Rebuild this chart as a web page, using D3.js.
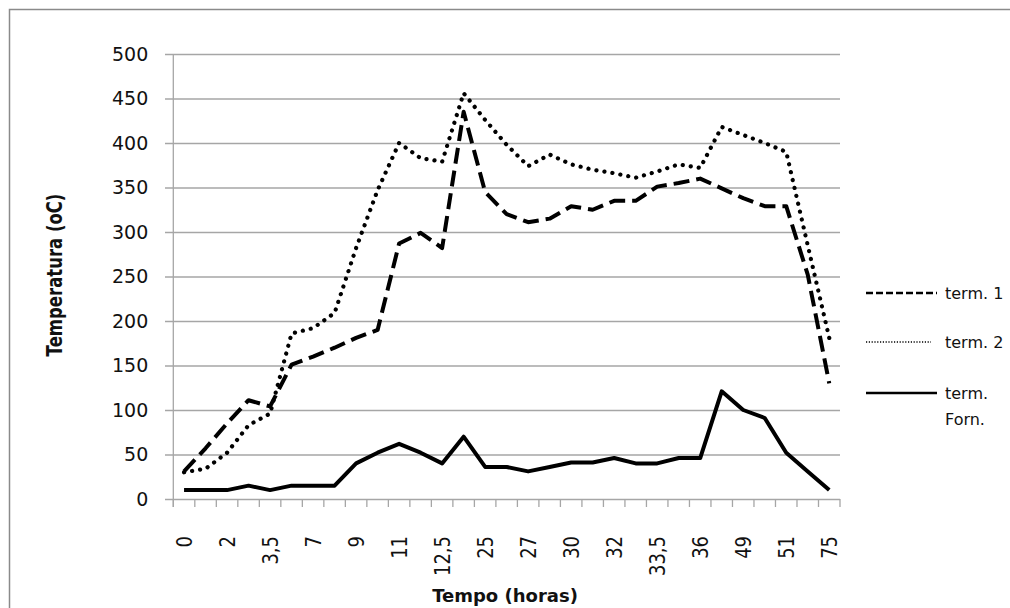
<!DOCTYPE html>
<html>
<head>
<meta charset="utf-8">
<script src="https://cdn.jsdelivr.net/npm/d3@7/dist/d3.min.js"></script>
<style>
  body { margin: 0; background: #fff; }
  text { font-family: "DejaVu Sans", sans-serif; fill: #111; }
</style>
</head>
<body>
<div id="chart"></div>
<script>
// x categories (tempo, horas) - only every other one gets a label
var categories = ["0","1","2","3","3,5","5","7","8","9","10","11","12","12,5","13","25","26",
                  "27","28","30","31","32","33","33,5","34","36","48","49","50","51","52","75"];
// temperatures (oC)
var term1 = [31, 57, 85, 111, 104, 151, 160, 170, 181, 190, 287, 299, 282, 435, 345, 320,
             311, 315, 329, 325, 335, 335, 351, 355, 360, 349, 338, 329, 329, 252, 130];
var term2 = [30, 34, 52, 83, 96, 186, 192, 209, 282, 347, 400, 383, 379, 456, 426, 398,
             374, 387, 376, 370, 366, 361, 368, 376, 372, 418, 409, 400, 390, 285, 181];
var termForn = [10, 10, 10, 15, 10, 15, 15, 15, 40, 52, 62, 52, 40, 70, 36, 36,
                31, 36, 41, 41, 46, 40, 40, 46, 46, 121, 100, 91, 52, 31, 10];
var yTicks = [0, 50, 100, 150, 200, 250, 300, 350, 400, 450, 500];
var seriesNames = ["term. 1", "term. 2", "term. Forn."];

var svgWidth = 1010;
var svgHeight = 608;

// plot box (don't call it "top", window.top is read-only)
var plot = { left: 173.3, right: 840, top: 54, bottom: 499 };

var svg = d3.select("#chart")
  .append("svg")
  .attr("width", svgWidth)
  .attr("height", svgHeight);

svg.append("rect")
  .attr("width", svgWidth)
  .attr("height", svgHeight)
  .attr("fill", "white");

// outer frame (only left and top edges show)
svg.append("rect")
  .attr("x", 9.5)
  .attr("y", 9.5)
  .attr("width", 1020)
  .attr("height", 620)
  .attr("fill", "none")
  .attr("stroke", "#8a8a8a")
  .attr("stroke-width", 1.5);

var xScale = d3.scaleBand()
  .domain(categories)
  .range([plot.left, plot.right])
  .padding(0);

var yScale = d3.scaleLinear()
  .domain([0, 500])
  .range([plot.bottom, plot.top]);

// gridlines, starting a bit left of the axis so they double as ticks
svg.append("g")
  .attr("transform", "translate(165,0)")
  .call(d3.axisLeft(yScale).tickValues(yTicks).tickSize(-(plot.right - 165)).tickFormat(""))
  .call(g => g.select(".domain").remove())
  .selectAll("line")
  .attr("stroke", "#a6a6a6")
  .attr("stroke-width", 1.3);

// y tick labels
svg.append("g")
  .attr("transform", `translate(${plot.left},0)`)
  .call(d3.axisLeft(yScale).tickValues(yTicks).tickSize(0).tickPadding(25))
  .call(g => g.select(".domain").remove())
  .selectAll("text")
  .style("font-size", "19px")
  .style("font-family", "DejaVu Sans")
  .attr("fill", "#111");

// y axis line
svg.append("line")
  .attr("x1", plot.left).attr("x2", plot.left)
  .attr("y1", plot.top).attr("y2", plot.bottom + 8)
  .attr("stroke", "#a6a6a6")
  .attr("stroke-width", 1.3);

// x tick marks between categories
var boundaries = categories.map(d => xScale(d)).concat([plot.right]);
svg.append("g")
  .selectAll("line")
  .data(boundaries)
  .enter()
  .append("line")
  .attr("x1", d => d).attr("x2", d => d)
  .attr("y1", plot.bottom).attr("y2", plot.bottom + 8)
  .attr("stroke", "#a6a6a6")
  .attr("stroke-width", 1.3);

// x tick labels, rotated, every other category
svg.append("g")
  .attr("transform", `translate(0,${plot.bottom})`)
  .call(d3.axisBottom(xScale).tickSize(0).tickFormat((d, i) => i % 2 === 0 ? d : ""))
  .call(g => g.select(".domain").remove())
  .selectAll("text")
  .attr("transform", "rotate(-90) scale(1,1.15)")
  .attr("x", -37)
  .attr("y", 0)
  .attr("dy", "0.36em")
  .style("text-anchor", "end")
  .style("font-size", "18px")
  .style("font-family", "DejaVu Sans")
  .attr("fill", "#111");

// axis titles
svg.append("text")
  .attr("transform", "translate(62,275) rotate(-90) scale(1,1.3)")
  .style("text-anchor", "middle")
  .style("font-weight", "bold")
  .style("font-size", "16.5px")
  .text("Temperatura (oC)");

svg.append("text")
  .attr("x", 505)
  .attr("y", 602)
  .style("text-anchor", "middle")
  .style("font-weight", "bold")
  .style("font-size", "18px")
  .text("Tempo (horas)");

// lines
var line = d3.line()
  .x((d, i) => xScale(categories[i]) + xScale.bandwidth() / 2)
  .y(d => yScale(d));

var styles = [
  { data: term1, dash: "16 7", cap: "butt", width: 4 },
  { data: term2, dash: "0.1 8", cap: "round", width: 4.2 },
  { data: termForn, dash: null, cap: "butt", width: 4 }
];

styles.forEach(function (s) {
  svg.append("path")
    .datum(s.data)
    .attr("d", line)
    .attr("fill", "none")
    .attr("stroke", "black")
    .attr("stroke-width", s.width)
    .attr("stroke-linecap", s.cap)
    .attr("stroke-linejoin", "round")
    .attr("stroke-dasharray", s.dash);
});

// legend
var legendY = [293, 342, 393];
var legendDash = ["7 3", "1.2 1.6", null];
var legendWidth = [2.6, 1.4, 2.6];

seriesNames.forEach(function (name, i) {
  svg.append("line")
    .attr("x1", 866).attr("x2", i === 1 ? 931 : 937)
    .attr("y1", legendY[i]).attr("y2", legendY[i])
    .attr("stroke", "black")
    .attr("stroke-width", legendWidth[i])
    .attr("stroke-dasharray", legendDash[i]);

  var words = i === 2 ? ["term.", "Forn."] : [name];
  var t = svg.append("text")
    .attr("x", 945)
    .attr("y", legendY[i] + 6)
    .style("font-size", "16px");
  words.forEach(function (w, j) {
    t.append("tspan")
      .attr("x", 945)
      .attr("dy", j === 0 ? 0 : 26)
      .text(w);
  });
});
</script>
</body>
</html>
